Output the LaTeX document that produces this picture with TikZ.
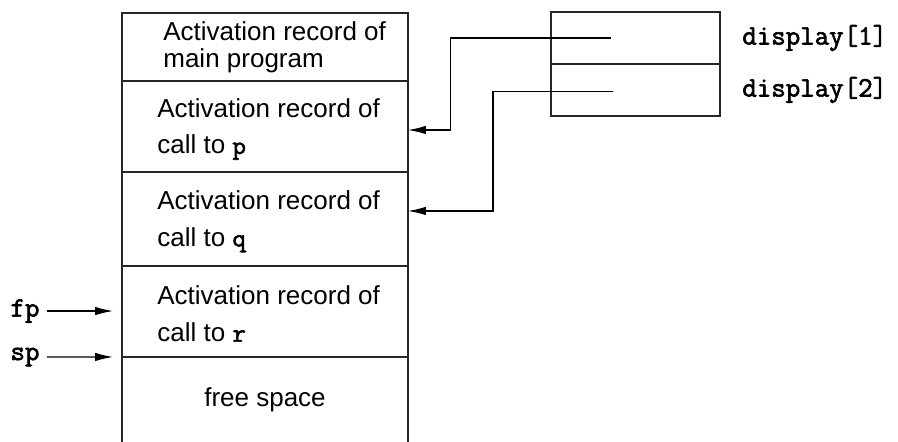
\documentclass[tikz,border=0pt]{standalone}
\usepackage{fontspec}
\setmainfont{Liberation Sans}
\newfontfamily\codefont{Latin Modern Mono}[FakeBold=2.2]
\usepackage{tikz}
\usetikzlibrary{arrows.meta, positioning, calc}

\newcommand{\cd}[1]{{\codefont #1}}

\begin{document}
\begin{tikzpicture}[
  x=0.02cm, y=-0.02cm,
  record/.style={rectangle, draw=black!85, line width=0.9pt, outer sep=0pt, inner sep=0pt, minimum width=5.72cm},
  slot/.style={rectangle, draw=black!85, line width=0.8pt, outer sep=0pt, inner sep=0pt, minimum width=3.38cm, minimum height=1.04cm},
  rtext/.style={align=left, inner sep=0pt, font=\fontsize{14.8}{21}\selectfont},
  code/.style={inner sep=0pt, font=\fontsize{16}{18}\selectfont\codefont},
  arr/.style={-{Latex[length=3.6mm, width=1.7mm]}, line width=0.7pt}
]
  \useasboundingbox (0,0) rectangle (898,441);

  % the stack
  \node[record, minimum height=1.36cm] (rmain) at (265,47) {};
  \node[record, minimum height=1.82cm, below=0pt of rmain] (rp) {};
  \node[record, minimum height=1.88cm, below=0pt of rp] (rq) {};
  \node[record, minimum height=1.82cm, below=0pt of rq] (rr) {};
  \coordinate[below=1.7cm of rr.south west] (fsw);
  \coordinate[below=1.7cm of rr.south east] (fse);
  \draw[line width=0.9pt, black!85] (rr.south west) -- (fsw);
  \draw[line width=0.9pt, black!85] (rr.south east) -- (fse);

  \node[rtext, font=\fontsize{14.8}{15.5}\selectfont, right=0.82cm of rmain.west] (tmain) {Activation record of\\main program};
  \node[rtext, right=0.7cm of rp.west, yshift=-0.05cm] (tp) {Activation record of\\call to \cd{p}};
  \node[rtext, right=0.7cm of rq.west, yshift=-0.05cm] (tq) {Activation record of\\call to \cd{q}};
  \node[rtext, right=0.7cm of rr.west, yshift=-0.05cm] (tr) {Activation record of\\call to \cd{r}};
  \node[rtext] (tfree) at ($(rr.south)!0.5!(fse -| rr.south)$) {free space};

  % display
  \node[slot] (d1) at (635.5,38) {};
  \node[slot, below=0pt of d1] (d2) {};
  \node[code, right=0.44cm of d1] (n1) {display[1]};
  \node[code, right=0.44cm of d2] (n2) {display[2]};

  \coordinate[xshift=-0.5cm] (p1) at (d1.center);
  \coordinate[xshift=-0.45cm, yshift=-0.03cm] (p2) at (d2.center);
  \draw[arr] (p1) -- ++(-160,0) |- ([yshift=-0.07cm]rp.east);
  \draw[arr] (p2) -- ++(-120,0) |- ([yshift=0.16cm]rq.east);

  % frame and stack pointers
  \node[code] (fp) at (25,311) {fp};
  \node[code] (sp) at (25,357) {sp};
  \draw[arr, shorten <=0.14cm, shorten >=0.18cm] (fp.east) -- (fp.east -| rr.west);
  \draw[arr, shorten <=0.14cm, shorten >=0.18cm] (sp.east) -- (rr.south west);
\end{tikzpicture}
\end{document}
